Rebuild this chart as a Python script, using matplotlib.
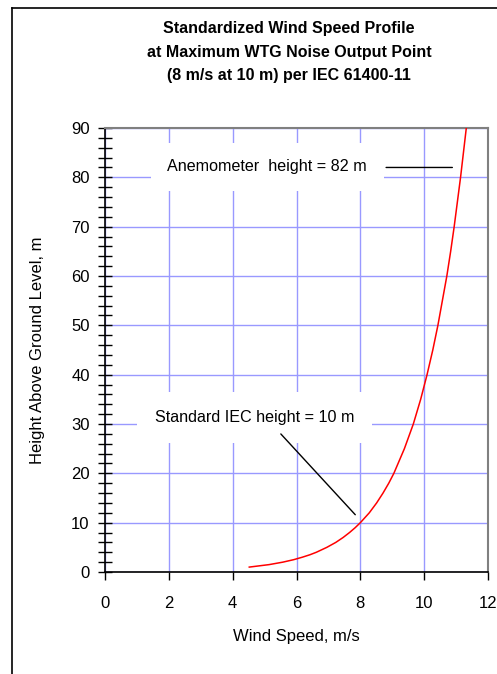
import matplotlib
matplotlib.use('Agg')
import matplotlib.pyplot as plt
from matplotlib.lines import Line2D
from matplotlib.ticker import MultipleLocator

plt.rcParams['font.family'] = ['Liberation Sans', 'DejaVu Sans']

# wind speed profile (height m, speed m/s)
heights = [1, 1.5, 2, 2.5, 3, 3.5, 4, 5, 6, 7, 8, 9, 10, 12, 14, 16, 18, 20,
           25, 30, 35, 40, 45, 50, 55, 60, 65, 70, 75, 80, 85, 90]
speeds = [4.52, 5.14, 5.57, 5.91, 6.18, 6.42, 6.62, 6.95, 7.23, 7.46, 7.66,
          7.84, 8.00, 8.28, 8.51, 8.71, 8.89, 9.05, 9.38, 9.66, 9.89, 10.09,
          10.27, 10.43, 10.57, 10.71, 10.83, 10.94, 11.04, 11.14, 11.23, 11.32]

title_lines = ['Standardized Wind Speed Profile',
               'at Maximum WTG Noise Output Point',
               '(8 m/s at 10 m) per IEC 61400-11']
anemo_label = 'Anemometer  height = 82 m'
iec_label = 'Standard IEC height = 10 m'

grid_col = '#9999ff'

fig = plt.figure(figsize=(4.97, 6.74), dpi=100)
ax = fig.add_axes([0.2113, 0.1513, 0.7706, 0.6588])

ax.plot(speeds, heights, color='red', lw=1.1, zorder=3)

ax.set_xlim(0, 12)
ax.set_ylim(0, 90)
ax.xaxis.set_major_locator(MultipleLocator(2))
ax.yaxis.set_major_locator(MultipleLocator(10))
ax.yaxis.set_minor_locator(MultipleLocator(2))
ax.grid(True, which='major', color=grid_col, lw=1, zorder=0)
ax.set_axisbelow(True)

ax.tick_params(axis='y', which='both', direction='inout', length=10, width=1,
               labelsize=12, pad=6)
ax.tick_params(axis='x', which='major', direction='out', length=6, width=1,
               labelsize=12, pad=11)
for s in ['top', 'right']:
    ax.spines[s].set_color('#808080')
    ax.spines[s].set_linewidth(1.5)
for s in ['left', 'bottom']:
    ax.spines[s].set_linewidth(1.2)

ax.set_xlabel('Wind Speed, m/s', fontsize=12, labelpad=13)
ax.set_ylabel('Height Above Ground Level, m', fontsize=12, labelpad=19)

# annotations with white boxes hiding the grid
ax.text(5.08, 82.1, anemo_label, fontsize=11.6, ha='center', va='center', zorder=4,
        bbox=dict(facecolor='white', edgecolor='none', pad=12))
ax.annotate('', xy=(10.97, 82), xytext=(8.72, 82),
            arrowprops=dict(arrowstyle='-', color='black', lw=1), zorder=4)
ax.text(4.69, 31.4, iec_label, fontsize=11.6, ha='center', va='center', zorder=4,
        bbox=dict(facecolor='white', edgecolor='none', pad=13))
ax.annotate('', xy=(7.9, 11.2), xytext=(5.45, 28.4),
            arrowprops=dict(arrowstyle='-', color='black', lw=1), zorder=4)

fig.text(0.5815, 0.969, '\n'.join(title_lines), fontsize=11.5, fontweight='bold',
         ha='center', va='top', linespacing=1.72)

# chart frame (left and top edges visible)
fig.add_artist(Line2D([11.5 / 497, 11.5 / 497], [0, 1 - 8 / 674], color='black', lw=1.2))
fig.add_artist(Line2D([11.5 / 497, 1], [1 - 8 / 674, 1 - 8 / 674], color='black', lw=1.2))

fig.savefig('out.png', dpi=100)
